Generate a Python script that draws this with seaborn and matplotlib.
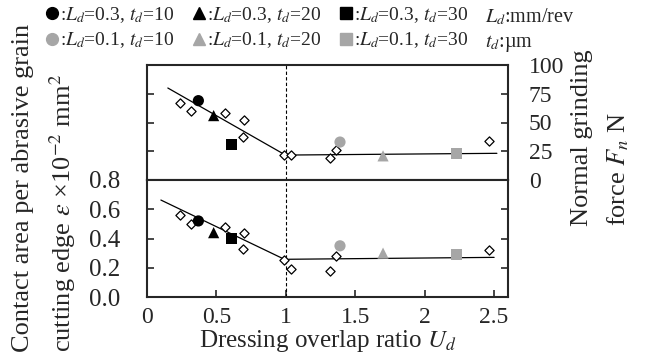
import numpy as np
import pandas as pd
import matplotlib
matplotlib.use('Agg')
import matplotlib.pyplot as plt
import seaborn as sns
from matplotlib.lines import Line2D

# values
diamond_x = [0.24, 0.32, 0.56, 0.70, 0.69, 0.99, 1.04, 1.32, 1.36, 2.46]
diamond_force = [67, 60, 58, 52, 37, 22, 22, 19, 26, 34]
diamond_area = [0.56, 0.50, 0.48, 0.44, 0.33, 0.25, 0.19, 0.18, 0.28, 0.32]

cond_labels = [r':$L_d$=0.3, $t_d$=10', r':$L_d$=0.3, $t_d$=20', r':$L_d$=0.3, $t_d$=30',
               r':$L_d$=0.1, $t_d$=10', r':$L_d$=0.1, $t_d$=20', r':$L_d$=0.1, $t_d$=30']
cond_x = [0.37, 0.48, 0.61, 1.39, 1.70, 2.23]
cond_force = [69, 56, 31, 33, 21, 23]
cond_area = [0.52, 0.44, 0.40, 0.35, 0.30, 0.29]
cond_markers = ['o', '^', 's', 'o', '^', 's']
cond_colors = ['black', 'black', 'black', '#a6a6a6', '#a6a6a6', '#a6a6a6']

# fitted lines (two segments each)
fit_left_x = [0.15, 1.0]
fit_left_force = [80, 21.5]
fit_right_x = [1.02, 2.52]
fit_right_force = [21.7, 23.2]
fit_left_x2 = [0.10, 1.0]
fit_left_area = [0.663, 0.253]
fit_right_x2 = [1.02, 2.50]
fit_right_area = [0.258, 0.271]

sns.set_style('ticks')
plt.rcParams['font.family'] = 'serif'
plt.rcParams['font.serif'] = ['Liberation Serif', 'DejaVu Serif']
plt.rcParams['mathtext.fontset'] = 'stix'

fig = plt.figure(figsize=(6.49, 3.56), dpi=100)
L, R, B, M, T = 147 / 649, 508 / 649, 1 - 297 / 356, 1 - 180 / 356, 1 - 65 / 356
ax_top = fig.add_axes([L, M, R - L, T - M])
ax_bot = fig.add_axes([L, B, R - L, M - B])

df = pd.DataFrame({'x': cond_x, 'force': cond_force, 'area': cond_area, 'cond': cond_labels})
pal = dict(zip(cond_labels, cond_colors))
mk = dict(zip(cond_labels, cond_markers))
dia = pd.DataFrame({'x': diamond_x, 'force': diamond_force, 'area': diamond_area})

for ax, col, lx, ly, rx, ry in [(ax_top, 'force', fit_left_x, fit_left_force, fit_right_x, fit_right_force),
                                (ax_bot, 'area', fit_left_x2, fit_left_area, fit_right_x2, fit_right_area)]:
    sns.lineplot(x=lx, y=ly, color='black', lw=0.9, ax=ax, sort=False)
    sns.lineplot(x=rx, y=ry, color='black', lw=0.9, ax=ax, sort=False)
    ax.axvline(1.0, color='black', lw=0.8, ls=(0, (3, 2)), zorder=1)
    sns.scatterplot(data=dia, x='x', y=col, marker='D', s=22, facecolor='white',
                    edgecolor='black', linewidth=0.9, ax=ax, zorder=3)
    sns.scatterplot(data=df, x='x', y=col, hue='cond', style='cond', palette=pal, markers=mk,
                    s=65, edgecolor='none', ax=ax, legend=False, zorder=4)
    ax.set_xlim(0, 2.6)
    ax.set_xlabel('')
    ax.set_ylabel('')
    for s in ax.spines.values():
        s.set_linewidth(1.5)
        s.set_visible(True)

ax_top.set_ylim(0, 100)
ax_top.set_yticks([0, 25, 50, 75, 100])
ax_top.tick_params(axis='y', direction='in', left=True, right=True, labelleft=False,
                   labelright=True, length=5, width=1.2, pad=15, labelsize=17)
ax_top.tick_params(axis='x', bottom=False, labelbottom=False)

ax_bot.set_ylim(0, 0.8)
ax_bot.set_yticks([0, 0.2, 0.4, 0.6, 0.8])
ax_bot.set_yticklabels(['0.0', '0.2', '0.4', '0.6', '0.8'])
ax_bot.set_xticks([0, 0.5, 1, 1.5, 2, 2.5])
ax_bot.set_xticklabels(['0', '0.5', '1', '1.5', '2', '2.5'])
ax_bot.tick_params(axis='y', direction='in', left=True, right=True, labelleft=True,
                   labelright=False, length=5, width=1.2, pad=19, labelsize=18)
ax_bot.tick_params(axis='x', direction='in', bottom=True, top=False, length=5, width=1.2,
                   pad=7, labelsize=17)
ax_bot.set_xlabel('Dressing overlap ratio $U_d$', fontsize=18, labelpad=0)

# axis titles, one text per line
fig.text(23 / 649, 0.01, 'Contact area per abrasive grain',
         rotation=90, ha='center', va='bottom', fontsize=19)
fig.text(63 / 649, 0.01, 'cutting edge $\\varepsilon$ ×10$^{-2}$ mm$^{2}$',
         rotation=90, ha='center', va='bottom', fontsize=19)
fig.text(582 / 649, 1 - 226 / 356, 'Normal grinding',
         rotation=90, ha='center', va='bottom', fontsize=19)
fig.text(618 / 649, 1 - 226 / 356, 'force $F_n$ N',
         rotation=90, ha='center', va='bottom', fontsize=19)

# legend: column-major, so pair 0.3 / 0.1 rows
order = [0, 3, 1, 4, 2, 5]
handles = [Line2D([], [], marker=cond_markers[i], color=cond_colors[i], ls='none', markersize=8.5)
           for i in order]
labels = [cond_labels[i] for i in order]
fig.legend(handles, labels, ncol=3, loc='upper left', bbox_to_anchor=(45 / 649, 1 - 3 / 356),
           frameon=False, handlelength=0.55, handletextpad=0.1, columnspacing=1.05,
           labelspacing=0.3, borderaxespad=0, borderpad=0.1, fontsize=14)
fig.text(485 / 649, 1 - 17 / 356, '$L_d$:mm/rev', fontsize=14.5, va='center')
fig.text(485 / 649, 1 - 43 / 356, '$t_d$:µm', fontsize=14.5, va='center')

fig.savefig('out.png', dpi=100)
